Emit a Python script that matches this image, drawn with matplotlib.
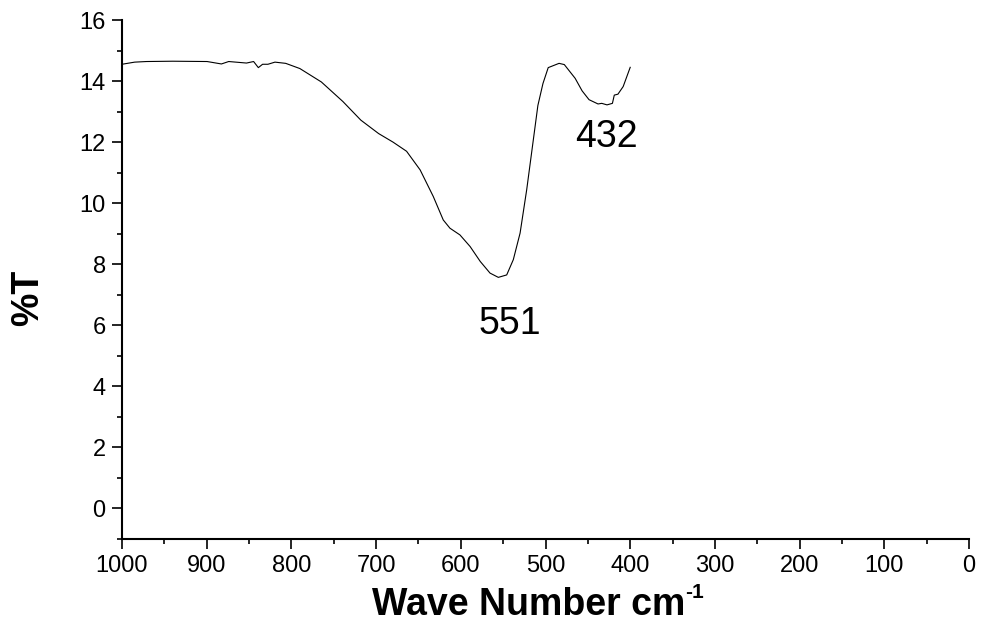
import matplotlib
matplotlib.use("Agg")
import matplotlib.pyplot as plt
from matplotlib.ticker import MultipleLocator

plt.rcParams["font.family"] = "Liberation Sans"

# FTIR spectrum
wave_number = [1000, 985, 971, 940, 899.5, 882.6, 874, 853, 844.6, 839, 834,
               827.7, 819.4, 806.7, 790, 764.6, 739.2, 718, 697, 680, 664, 648,
               632.5, 620.7, 612.8, 601, 589, 577, 565.5, 555.7, 545.8, 538,
               530, 522.2, 514.4, 509, 503, 496.8, 484, 477.8, 465, 456.8,
               448.6, 438, 433.6, 427.4, 421, 418.8, 414.5, 408.3, 400]
transmittance = [14.55, 14.62, 14.64, 14.65, 14.64, 14.56, 14.64, 14.59, 14.64,
                 14.44, 14.55, 14.55, 14.62, 14.58, 14.41, 13.97, 13.33, 12.72,
                 12.28, 12.0, 11.7, 11.09, 10.22, 9.45, 9.18, 8.96, 8.58, 8.09,
                 7.71, 7.57, 7.65, 8.15, 9.02, 10.44, 12.07, 13.2, 13.92, 14.44,
                 14.58, 14.54, 14.09, 13.68, 13.39, 13.25, 13.27, 13.22, 13.27,
                 13.54, 13.57, 13.82, 14.45]

peak_labels = ["551", "432"]
peak_pos = [(542, 6.05), (428.6, 12.17)]

fig = plt.figure(figsize=(9.82, 6.31), dpi=100)
ax = fig.add_axes([0.1242, 0.1458, 0.8626, 0.8225])

ax.plot(wave_number, transmittance, color="black", linewidth=0.8)

for lab, (px, py) in zip(peak_labels, peak_pos):
    ax.text(px, py, lab, fontsize=27, ha="center", va="center")

ax.set_xlim(1000, 0)
ax.set_ylim(-1, 16)
ax.xaxis.set_major_locator(MultipleLocator(100))
ax.xaxis.set_minor_locator(MultipleLocator(50))
ax.yaxis.set_major_locator(MultipleLocator(2))
ax.yaxis.set_minor_locator(MultipleLocator(1))

for side in ["top", "right"]:
    ax.spines[side].set_visible(False)
for side in ["left", "bottom"]:
    ax.spines[side].set_linewidth(1.5)

ax.tick_params(which="major", direction="out", length=7.2, width=1.2,
               labelsize=17, pad=4.5)
ax.tick_params(which="minor", direction="out", length=3.6, width=1.2)

# x label with a plain hyphen superscript
xlab = fig.text(372 / 982, 1 - 615 / 631, "Wave Number cm", fontsize=27,
                fontweight="bold", ha="left", va="baseline")
ax.annotate("-1", xy=(1, 1), xycoords=xlab, xytext=(0, 3),
            textcoords="offset points", fontsize=15, fontweight="bold",
            ha="left", va="top")

ax.set_ylabel("%T", fontsize=27, fontweight="bold", ha="center", va="center")
ax.yaxis.set_label_coords(-0.111, 0.464)

fig.savefig("out.png", dpi=100)
